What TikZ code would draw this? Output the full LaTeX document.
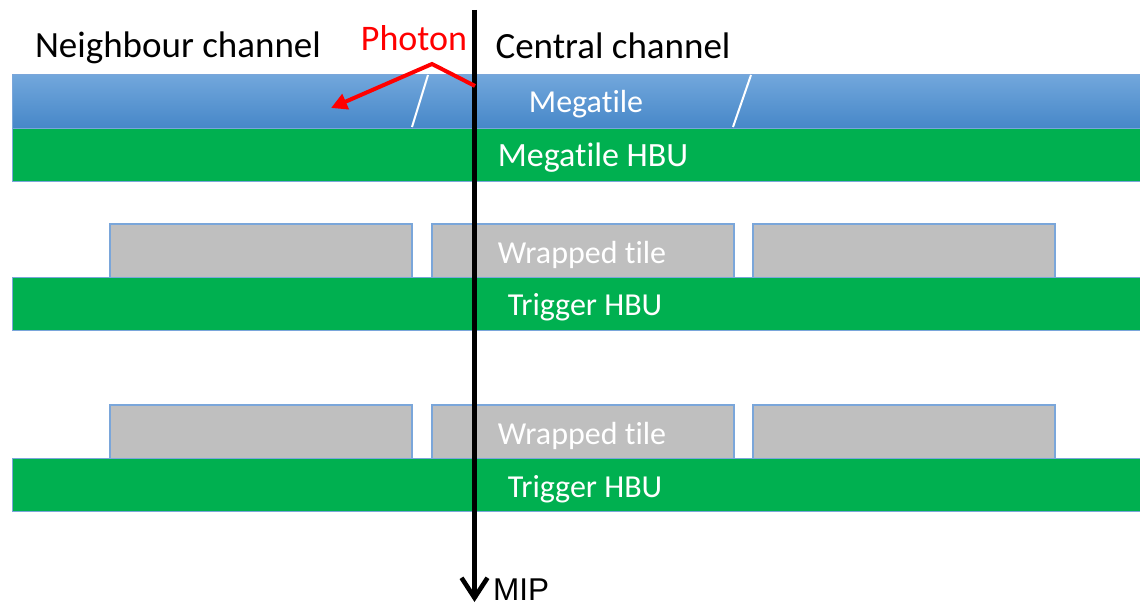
\documentclass[tikz,border=0pt]{standalone}
\usepackage{fontspec}
\setmainfont{Carlito}[Ligatures=NoCommon]
\newfontfamily\arialf{Liberation Sans}
\usetikzlibrary{arrows.meta}
\definecolor{hbugreen}{HTML}{00B050}
\definecolor{tilegray}{HTML}{BFBFBF}
\definecolor{edgeblue}{HTML}{7AA6DA}
\definecolor{mtop}{HTML}{72A7DC}
\definecolor{mbot}{HTML}{4687C8}
\tikzset{
  x=1pt, y=-1pt,
  bar/.style={rectangle, anchor=north west, inner sep=0pt, draw=edgeblue, line width=1.2pt},
  hbu/.style={bar, fill=hbugreen, minimum width=1130pt, minimum height=53pt},
  mega/.style={bar, top color=mtop, bottom color=mbot, minimum width=1130pt, minimum height=54pt},
  tile/.style={bar, fill=tilegray, line width=1.6pt, minimum width=302pt, minimum height=54pt},
  intext/.style={text=white, font=\fontsize{32}{36}\selectfont, inner sep=0pt},
  toptext/.style={text=black, font=\fontsize{37}{42}\selectfont, inner sep=0pt},
  slit/.style={white, line width=2pt},
}
\begin{document}
\begin{tikzpicture}
\useasboundingbox (0,0) rectangle (1140,604);
% layers
\node[mega] (mt) at (12,74) {};
\node[hbu] (mhbu) at (12,128) {};
\node[tile] (t1a) at (109,223) {};
\node[tile] (t1b) at (431,223) {};
\node[tile] (t1c) at (752,223) {};
\node[hbu] (thbu1) at (12,277) {};
\node[tile] (t2a) at (109,404) {};
\node[tile] (t2b) at (431,404) {};
\node[tile] (t2c) at (752,404) {};
\node[hbu] (thbu2) at (12,458) {};
% slits in megatile
\draw[slit] (412,127) -- (428,75);
\draw[slit] (733,127) -- (751,75);
% labels
\node[intext] (lmt) at (586,104) {Megatile};
\node[intext, font=\fontsize{34}{38}\selectfont] (lmhbu) at (593,158) {Megatile HBU};
\node[intext] (lw1) at (582,255) {Wrapped tile};
\node[intext] (lt1) at (585,307) {Trigger HBU};
\node[intext] (lw2) at (582,436) {Wrapped tile};
\node[intext] (lt2) at (585,489) {Trigger HBU};
\node[toptext] (lnb) at (178,48) {Neighbour channel};
\node[toptext] (lcc) at (613,46) {Central channel};
\node[text=red, font=\fontsize{36}{42}\selectfont, inner sep=0pt] (lph) at (414,38) {Photon};
% MIP track
\coordinate (top) at (474.5,10);
\coordinate (bot) at (474.5,602);
\draw[line width=4.6pt, -{Straight Barb[length=20pt,width=26pt,line width=4.6pt]}] (top) -- (bot);
\node[font=\arialf\fontsize{31.5}{36}\selectfont, inner sep=0pt, anchor=base west] (mip) at (493,600) {MIP};
% photon
\coordinate (p1) at (475,86);
\coordinate (p2) at (432,64);
\coordinate (p3) at (331,108);
\draw[red, line width=4pt, -{Triangle[length=16pt,width=16pt]}] (p1) -- (p2) -- (p3);
\end{tikzpicture}
\end{document}
